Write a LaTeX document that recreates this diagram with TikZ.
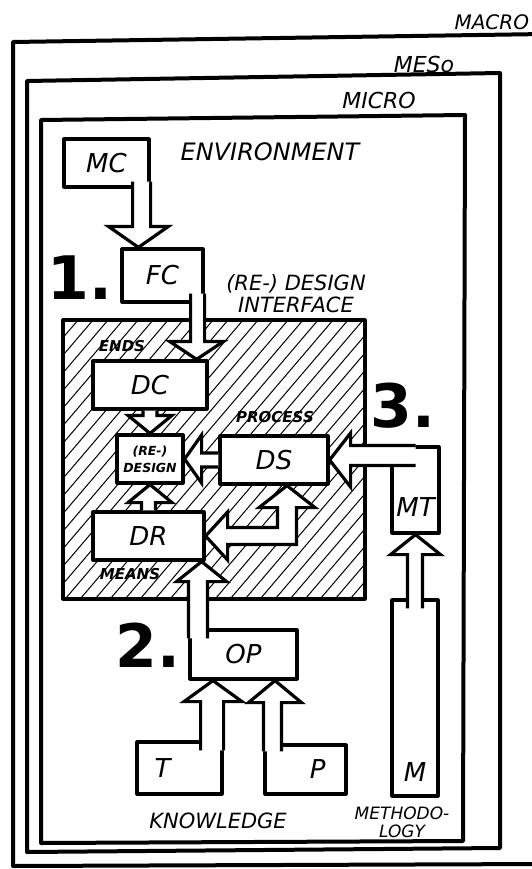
\documentclass[tikz,border=0pt]{standalone}
\usepackage{fontspec}
\setmainfont{DejaVu Sans}[ItalicFont={DejaVu Sans Oblique}, BoldFont={DejaVu Sans Bold}, BoldItalicFont={DejaVu Sans Bold Oblique}]
\usetikzlibrary{calc}

\tikzset{
  frame/.style={line width=4pt, line join=round},
  box/.style={draw, fill=white, line width=3.2pt, inner sep=0pt},
  blk/.style={draw, fill=white, line width=3.2pt, line join=miter},
  hatch/.style={line width=1pt},
  tagbig/.style={font=\fontsize{26}{26}\selectfont\itshape},
  tagmid/.style={font=\fontsize{22}{22}\selectfont\itshape},
  tagsmall/.style={font=\fontsize{15}{15}\selectfont\bfseries\itshape},
  stage/.style={font=\fontsize{60}{60}\selectfont\bfseries}
}

% vertical block arrow: [opts]{from}{tip}{shaft half}{head half}{head length}
\newcommand{\vblk}[6][]{%
  \path[blk,#1] let \p1=(#2), \p2=(#3), \n1={sign(\y1-\y2)*#6} in
    (\x1-#4,\y1) -- (\x1-#4,\y2+\n1) -- (\x2-#5,\y2+\n1) -- (\x2,\y2)
    -- (\x2+#5,\y2+\n1) -- (\x1+#4,\y2+\n1) -- (\x1+#4,\y1);}
% horizontal block arrow, same arguments
\newcommand{\hblk}[6][]{%
  \path[blk,#1] let \p1=(#2), \p2=(#3), \n1={sign(\x1-\x2)*#6} in
    (\x1,\y1+#4) -- (\x2+\n1,\y1+#4) -- (\x2+\n1,\y2+#5) -- (\x2,\y2)
    -- (\x2+\n1,\y2-#5) -- (\x2+\n1,\y1-#4) -- (\x1,\y1-#4);}

\begin{document}
\begin{tikzpicture}[x=1pt, y=-1pt, line join=round]
  \useasboundingbox (0,0) rectangle (532,869);

  % Nested frames: macro, meso, micro
  \draw[frame] (545,34) -- (13,42) -- (13,866) -- (545,864);
  \draw[frame] (27,81) -- (500,73) -- (500,848) -- (27,852) -- cycle;
  \draw[frame] (41,120) -- (465,115) -- (463,841) -- (41,843) -- cycle;
  \node[tagmid, font=\fontsize{20}{20}\selectfont\itshape, anchor=west] (macro) at (451,22) {MACRO};
  \node[tagmid] (meso) at (424,64) {MESo};
  \node[tagmid] (micro) at (379,100) {MICRO};

  % Hatched design interface
  \begin{scope}
    \clip (63,320) rectangle (365,599);
    \foreach \i in {0,15,...,660}
      \draw[hatch] (\i-270,605) -- ++(290,-340);
  \end{scope}
  \draw[line width=3.2pt] (63,320) rectangle (365,599);

  % Boxes
  \node[box, minimum width=85pt, minimum height=48pt, tagbig] (MC) at (106.5,163) {MC};
  \node[box, minimum width=81pt, minimum height=53pt, tagbig] (FC) at (162.5,275.5) {FC};
  \node[box, minimum width=114pt, minimum height=48pt, tagbig] (DC) at (150,385) {DC};
  \node[box, minimum width=66pt, minimum height=48pt, align=center,
        font=\fontsize{12.5}{17}\selectfont\bfseries\itshape] (RD) at (150,459) {(RE-)\\DESIGN};
  \node[box, minimum width=108pt, minimum height=48pt, tagbig] (DS) at (274,460) {DS};
  \node[box, minimum width=111pt, minimum height=48pt, tagbig] (DR) at (148.5,536) {DR};
  \node[box, minimum width=107pt, minimum height=49pt, tagbig] (OP) at (243.5,654.5) {OP};
  \node[box, minimum width=85pt, minimum height=52pt, tagbig, text width=50pt] (T) at (179.5,768) {T};
  \node[box, minimum width=81pt, minimum height=49pt, tagbig, text width=40pt, align=right] (P) at (305.5,769.5) {P};
  \node[box, minimum width=47pt, minimum height=86pt,
        label={[tagbig, yshift=-17pt]center:MT}] (MT) at (415.5,490) {};
  \node[box, minimum width=46pt, minimum height=196pt,
        label={[tagbig, yshift=-74pt]center:M}] (M) at (415,698) {};

  % Block arrows
  \vblk{[xshift=-9pt,yshift=7pt]MC.south east}{[xshift=18pt]FC.north west}{9}{30}{21}
  \vblk{[xshift=-7pt,yshift=10pt]FC.south east}{[xshift=-12pt]DC.north east}{7}{27}{18}
  \vblk{DC.south}{RD.north}{7}{22}{18}
  \vblk{DR.north}{RD.south}{7}{22}{18}
  \hblk{DS.west}{RD.east}{7}{24}{17}
  \hblk{[yshift=-10pt]MT.north}{DS.east}{10}{27}{21}
  \vblk{[yshift=-10pt]M.north}{MT.south}{7.5}{25}{20}
  \vblk{[xshift=9.5pt,yshift=-10pt]OP.north west}{[xshift=-4pt]DR.south east}{9.5}{25}{20}
  \vblk{[xshift=-11.5pt,yshift=-10pt]T.north east}{[xshift=-30.5pt]OP.south}{11.5}{29}{21}
  \vblk{[xshift=9pt,yshift=-8pt]P.north west}{[xshift=31.5pt]OP.south}{9}{26.5}{22}
  % two-headed bend between DS and DR
  \path[blk] let \p1=([xshift=13pt]DS.south), \p2=(DR.east) in
    (\x1,\y1) -- (\x1+28,\y1-22) -- (\x1+9.5,\y1-22) -- (\x1+9.5,\y2-8.5)
    -- (\x2+22,\y2-8.5) -- (\x2+22,\y2-24) -- (\x2,\y2) -- (\x2+22,\y2+24)
    -- (\x2+22,\y2+8.5) -- (\x1-9.5,\y2+8.5) -- (\x1-9.5,\y1-22)
    -- (\x1-28,\y1-22) -- cycle;

  % Labels
  \node[tagmid, font=\fontsize{24}{24}\selectfont\itshape] (env) at (270,152) {ENVIRONMENT};
  \node[tagmid, font=\fontsize{21}{22}\selectfont\itshape, align=center] (iface) at (296,294) {(RE-) DESIGN\\INTERFACE};
  \node[tagsmall] (ends) at (122,346) {ENDS};
  \node[tagsmall] (process) at (275,417) {PROCESS};
  \node[tagsmall] (means) at (130,574) {MEANS};
  \node[tagmid, font=\fontsize{21}{21}\selectfont\itshape] (knowledge) at (218,821) {KNOWLEDGE};
  \node[tagmid, font=\fontsize{17}{18}\selectfont\itshape, align=center] (method) at (402,822) {METHODO-\\LOGY};
  \node[stage] (one) at (80,278) {1.};
  \node[stage] (two) at (148,645) {2.};
  \node[stage] (three) at (403,406) {3.};
\end{tikzpicture}
\end{document}
